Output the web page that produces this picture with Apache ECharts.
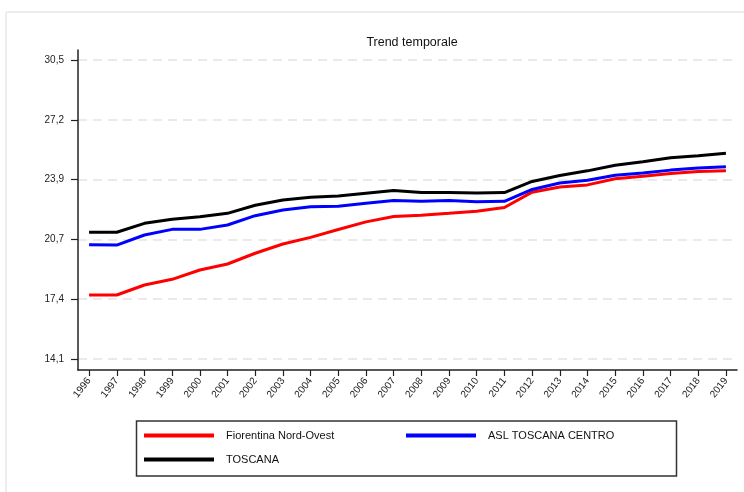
<!DOCTYPE html>
<html>
<head>
<meta charset="utf-8">
<script src="https://cdn.jsdelivr.net/npm/echarts@6/dist/echarts.min.js"></script>
<style>
html,body{margin:0;padding:0;background:#fff;}
#c{width:744px;height:492px;}
</style>
</head>
<body>
<div id="c"></div>
<script>
var years = [1996,1997,1998,1999,2000,2001,2002,2003,2004,2005,2006,2007,2008,2009,2010,2011,2012,2013,2014,2015,2016,2017,2018,2019];
var fiorentina = [17.61,17.61,18.16,18.47,18.98,19.31,19.90,20.41,20.77,21.20,21.62,21.92,21.99,22.09,22.20,22.41,23.25,23.53,23.65,23.99,24.12,24.27,24.38,24.42];
var aslCentro = [20.37,20.35,20.90,21.21,21.21,21.45,21.96,22.27,22.45,22.48,22.64,22.79,22.75,22.79,22.73,22.75,23.40,23.75,23.90,24.18,24.30,24.46,24.57,24.64];
var toscana = [21.05,21.05,21.54,21.76,21.90,22.09,22.53,22.82,22.97,23.04,23.19,23.34,23.23,23.23,23.21,23.23,23.84,24.16,24.42,24.73,24.92,25.14,25.25,25.38];
var seriesNames = ['Fiorentina Nord-Ovest','ASL TOSCANA CENTRO','TOSCANA'];
var seriesColors = ['#ff0000','#0000ff','#000000'];
var yTickMin = 14.1, yTickMax = 30.5, yTickStep = 3.28;

var FONT = '"Liberation Sans Narrow","Liberation Sans",Arial,sans-serif';
function pairs(arr){ return years.map(function(y,i){ return [y, arr[i]]; }); }
var allData = [fiorentina, aslCentro, toscana];

var chart = echarts.init(document.getElementById('c'), null, {renderer:'canvas'});
var legendPos = [[144,430],[406,430],[144,454]];
var option = {
  backgroundColor:'#fff',
  animation:false,
  title:{text:'Trend temporale', left:407, top:31, textAlign:'center',
    textStyle:{fontFamily:FONT, fontSize:12.5, fontWeight:'normal', color:'#111'}},
  legend: seriesNames.map(function(n,i){
    return {data:[n], left:legendPos[i][0], top:legendPos[i][1], padding:0,
      itemWidth:70, itemHeight:4, icon:'rect', selectedMode:false,
      textStyle:{fontFamily:FONT, fontSize:11, color:'#111', padding:[0,0,0,7]}};
  }),
  grid:[
    {left:78, width:659, top:50, height:320},
    {left:78, width:659, top:60, height:299}
  ],
  xAxis:[
    {gridIndex:0, type:'value', min:1995.6, max:2019.4,
      axisLine:{show:true, lineStyle:{color:'#222', width:1.5}},
      axisTick:{show:true, length:6, customValues:years, lineStyle:{color:'#222', width:1.2}},
      axisLabel:{show:true, customValues:years, rotate:52, margin:9, fontFamily:FONT, fontSize:10, color:'#222',
        formatter:function(v){return String(Math.round(v));}},
      splitLine:{show:false}},
    {gridIndex:1, type:'value', min:1995.6, max:2019.4, show:false,
      splitLine:{show:false}}
  ],
  yAxis:[
    {gridIndex:0, type:'value', min:13.5, max:31.05,
      axisLine:{show:true, lineStyle:{color:'#222', width:1.5}},
      axisTick:{show:false}, axisLabel:{show:false}, splitLine:{show:false}},
    {gridIndex:1, type:'value', min:yTickMin, max:yTickMax, interval:yTickStep,
      axisLine:{show:false},
      axisTick:{show:true, length:7, lineStyle:{color:'#222', width:1.2}},
      axisLabel:{margin:14, fontFamily:FONT, fontSize:10, color:'#222',
        formatter:function(v){return v.toFixed(1).replace('.', ',');}},
      splitLine:{show:true, lineStyle:{color:'#e4e4e4', type:[9,6], width:1.5}}}
  ],
  graphic:[
    {type:'line', shape:{x1:6,y1:12,x2:744,y2:12}, style:{stroke:'#e9efef', lineWidth:2}, silent:true},
    {type:'line', shape:{x1:6,y1:12,x2:6,y2:492}, style:{stroke:'#e9efef', lineWidth:2}, silent:true},
    {type:'rect', shape:{x:136.5,y:421,width:540,height:55}, style:{fill:'none', stroke:'#333', lineWidth:1.5}, silent:true, z:-1}
  ],
  series: seriesNames.map(function(n,i){
    return {name:n, type:'line', xAxisIndex:1, yAxisIndex:1, data:pairs(allData[i]),
      showSymbol:false, symbol:'none', lineStyle:{color:seriesColors[i], width:3}, itemStyle:{color:seriesColors[i]}};
  })
};
chart.setOption(option);
</script>
</body>
</html>
